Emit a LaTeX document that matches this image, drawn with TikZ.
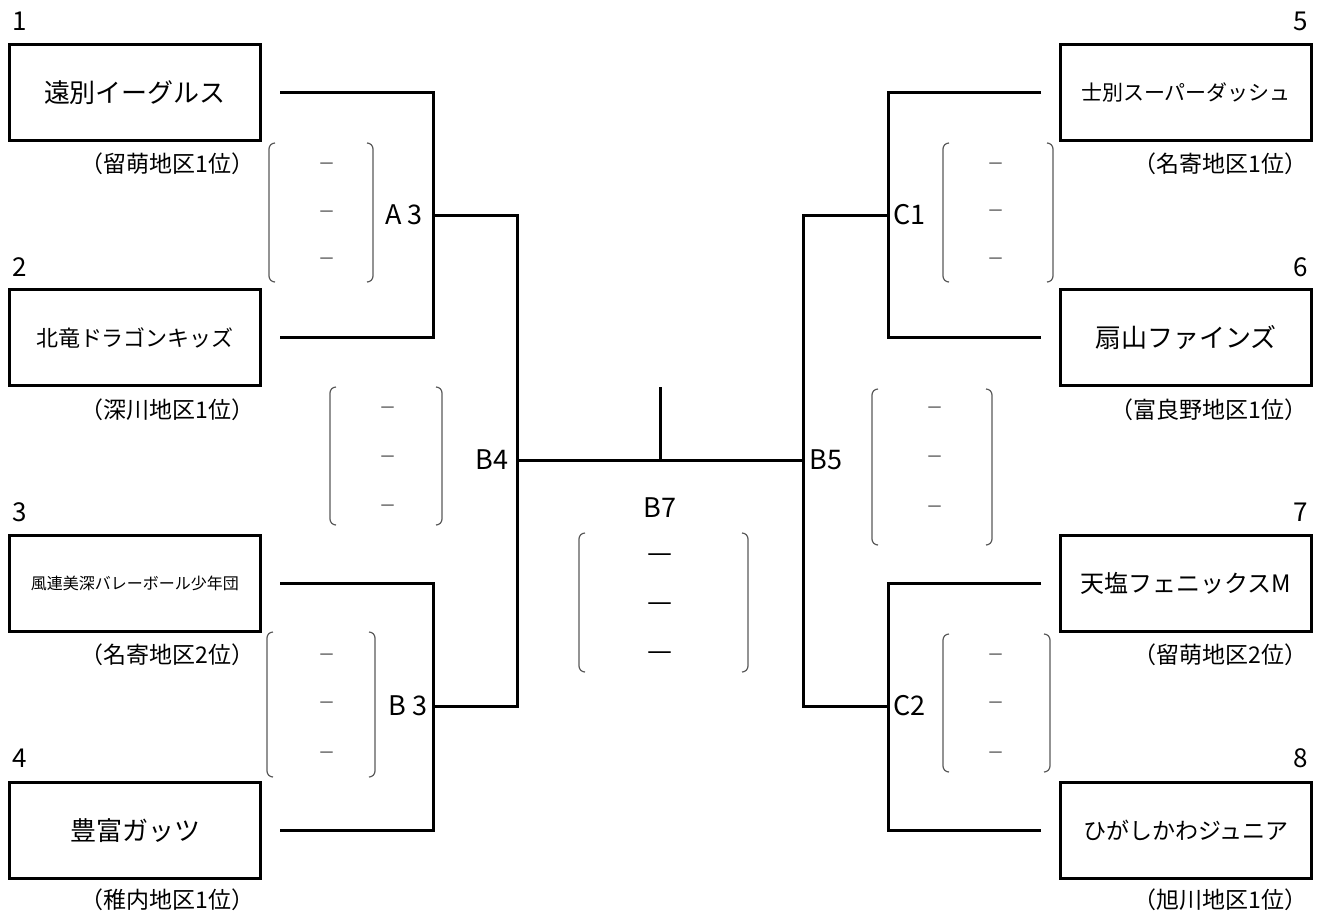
\documentclass[tikz,border=0pt]{standalone}
\usepackage{fontspec}
\setmainfont{Noto Sans CJK JP}
\usetikzlibrary{calc}
\usetikzlibrary{positioning}

\begin{document}
\begin{tikzpicture}[x=0.5pt,y=-0.5pt,
    team node/.style={draw,line width=1.5pt,minimum width=125.5pt,minimum height=48pt,inner sep=0pt},
    name big/.style={font=\fontsize{13pt}{15pt}\selectfont},
    name mid/.style={font=\fontsize{11pt}{13pt}\selectfont},
    name small/.style={font=\fontsize{8pt}{10pt}\selectfont},
    num node/.style={inner sep=0pt,font=\fontsize{13pt}{15pt}\selectfont},
    area node/.style={inner sep=0pt,font=\fontsize{11.5pt}{13pt}\selectfont},
    match node/.style={inner sep=0pt,font=\fontsize{13.5pt}{15pt}\selectfont},
    score dash/.style={inner sep=0pt,text=black!50,font=\fontsize{14pt}{15pt}\selectfont},
    final dash/.style={inner sep=0pt,font=\fontsize{14pt}{15pt}\selectfont},
    bracket line/.style={-,line width=1.5pt},
    paren/.style={-,line width=0.6pt,draw=black!65,rounded corners=3pt}]
   \useasboundingbox (0,0) rectangle (1319,912);
   % teams, left side
   \node[team node,name big] (t1) at (135,92.5) {遠別イーグルス};
   \node[team node,name mid] (t2) at (135,337.5) {北竜ドラゴンキッズ};
   \node[team node,name small] (t3) at (135,583.5) {風連美深バレーボール少年団};
   \node[team node,name big] (t4) at (135,830.5) {豊富ガッツ};
   % teams, right side
   \node[team node,font=\fontsize{10.5pt}{12pt}\selectfont] (t5) at (1186,92.5) {士別スーパーダッシュ};
   \node[team node,name big] (t6) at (1186,337.5) {扇山ファインズ};
   \node[team node,font=\fontsize{12pt}{14pt}\selectfont] (t7) at (1186,583.5) {天塩フェニックスM};
   \node[team node,font=\fontsize{11.5pt}{13pt}\selectfont] (t8) at (1186,830.5) {ひがしかわジュニア};
   % numbers
   \node[num node,anchor=base west] (n1) at (12,30) {1};
   \node[num node,anchor=base west] (n2) at (12,276) {2};
   \node[num node,anchor=base west] (n3) at (12,521) {3};
   \node[num node,anchor=base west] (n4) at (12,767) {4};
   \node[num node,anchor=base east] (n5) at (1308,30) {5};
   \node[num node,anchor=base east] (n6) at (1308,276) {6};
   \node[num node,anchor=base east] (n7) at (1308,521) {7};
   \node[num node,anchor=base east] (n8) at (1308,767) {8};
   % areas
   \node[area node] (r1) at (167.5,164) {（留萌地区1位）};
   \node[area node] (r2) at (167.5,410) {（深川地区1位）};
   \node[area node] (r3) at (167.5,655) {（名寄地区2位）};
   \node[area node] (r4) at (167.5,900) {（稚内地区1位）};
   \node[area node,anchor=east] (r5) at (1308,164) {（名寄地区1位）};
   \node[area node,anchor=east] (r6) at (1308,410) {（富良野地区1位）};
   \node[area node,anchor=east] (r7) at (1308,655) {（留萌地区2位）};
   \node[area node,anchor=east] (r8) at (1308,900) {（旭川地区1位）};
   % junctions
   \coordinate (a3) at (433,215);
   \coordinate (b3) at (433,706);
   \coordinate (b4) at (517,460);
   \coordinate (b5) at (803,460);
   \coordinate (c1) at (888,215);
   \coordinate (c2) at (888,706);
   \coordinate (b7) at (660,460);
   \coordinate (b7top) at (660,387);
   \draw[bracket line] ($(t1.east)+(18,0)$) -| (a3) |- ($(t2.east)+(18,0)$);
   \draw[bracket line] ($(t3.east)+(18,0)$) -| (b3) |- ($(t4.east)+(18,0)$);
   \draw[bracket line] ($(t5.west)+(-18,0)$) -| (c1) |- ($(t6.west)+(-18,0)$);
   \draw[bracket line] ($(t7.west)+(-18,0)$) -| (c2) |- ($(t8.west)+(-18,0)$);
   \draw[bracket line] (a3) -| (b4) |- (b3);
   \draw[bracket line] (c1) -| (b5) |- (c2);
   \path[bracket line] (b4) edge (b5);
   \path[bracket line] (b7) edge (b7top);
   % match labels
   \node[match node,anchor=east] (la3) at (423,215) {A 3};
   \node[match node,anchor=east] (lb3) at (428,706) {B 3};
   \node[match node,anchor=east] (lb4) at (509,460) {B4};
   \node[match node,anchor=west] (lb5) at (809,460) {B5};
   \node[match node,anchor=west] (lc1) at (893,215) {C1};
   \node[match node,anchor=west] (lc2) at (893,706) {C2};
   \node[match node] (lb7) at (660,508) {B7};
   % score brackets
   \draw[paren] (275,143) -- (269,143) -- (269,282) -- (275,282);
   \draw[paren] (367,143) -- (373,143) -- (373,282) -- (367,282);
   \draw[paren] (273,632) -- (267,632) -- (267,777) -- (273,777);
   \draw[paren] (369,632) -- (375,632) -- (375,777) -- (369,777);
   \draw[paren] (336,387) -- (330,387) -- (330,525) -- (336,525);
   \draw[paren] (436,387) -- (442,387) -- (442,525) -- (436,525);
   \draw[paren] (878,389) -- (872,389) -- (872,545) -- (878,545);
   \draw[paren] (986,389) -- (992,389) -- (992,545) -- (986,545);
   \draw[paren] (585,533) -- (579,533) -- (579,672) -- (585,672);
   \draw[paren] (742,533) -- (748,533) -- (748,672) -- (742,672);
   \draw[paren] (949,143) -- (943,143) -- (943,282) -- (949,282);
   \draw[paren] (1047,143) -- (1053,143) -- (1053,282) -- (1047,282);
   \draw[paren] (949,634) -- (943,634) -- (943,772) -- (949,772);
   \draw[paren] (1044,634) -- (1050,634) -- (1050,772) -- (1044,772);
   % scores
   \node[score dash] (sa1) at (327,167) {–};
   \node[score dash] (sa2) at (327,215) {–};
   \node[score dash] (sa3) at (327,262) {–};
   \node[score dash] (sb1) at (327,658) {–};
   \node[score dash] (sb2) at (327,706) {–};
   \node[score dash] (sb3) at (327,756) {–};
   \node[score dash] (sd1) at (388,411) {–};
   \node[score dash] (sd2) at (388,460) {–};
   \node[score dash] (sd3) at (388,509) {–};
   \node[score dash] (se1) at (935,411) {–};
   \node[score dash] (se2) at (935,460) {–};
   \node[score dash] (se3) at (935,510) {–};
   \node[score dash] (sc1) at (996,167) {–};
   \node[score dash] (sc2) at (996,214) {–};
   \node[score dash] (sc3) at (996,262) {–};
   \node[score dash] (sf1) at (996,658) {–};
   \node[score dash] (sf2) at (996,706) {–};
   \node[score dash] (sf3) at (996,756) {–};
   \node[final dash] (sg1) at (660,558) {—};
   \node[final dash] (sg2) at (660,607) {—};
   \node[final dash] (sg3) at (660,656) {—};
\end{tikzpicture}
\end{document}
